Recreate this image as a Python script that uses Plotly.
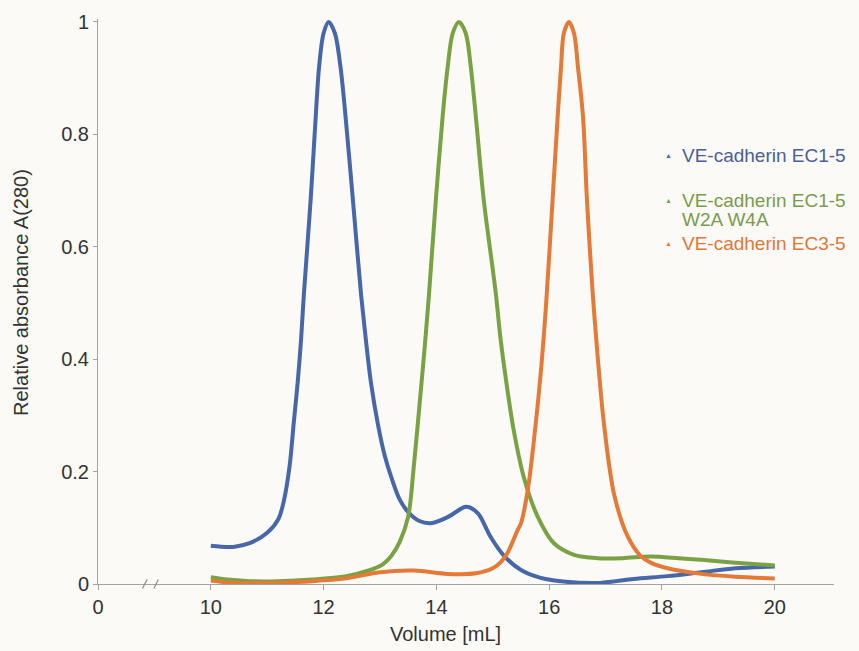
import plotly.graph_objects as go

# ---- data ----
blue_x = [10.0, 10.4, 10.7, 11.0, 11.2, 11.3, 11.4, 11.47, 11.54, 11.6, 11.65, 11.77, 11.86, 11.92, 12.0, 12.09,
          12.2, 12.3, 12.39, 12.52, 12.66, 12.75, 12.84, 12.96, 13.08, 13.2, 13.35, 13.5, 13.7, 13.9, 14.2, 14.5,
          14.6, 14.75, 14.96, 15.2, 15.5, 15.85, 16.3, 16.9, 17.5, 18.1, 18.7, 19.3, 20.0]
blue_y = [0.068, 0.066, 0.073, 0.091, 0.116, 0.15, 0.212, 0.286, 0.358, 0.434, 0.515, 0.683, 0.831, 0.92, 0.98, 1.0,
          0.98, 0.92, 0.831, 0.683, 0.52, 0.434, 0.358, 0.286, 0.23, 0.19, 0.15, 0.128, 0.112, 0.108, 0.119, 0.137,
          0.136, 0.124, 0.084, 0.05, 0.025, 0.011, 0.004, 0.002, 0.009, 0.014, 0.021, 0.028, 0.031]

green_x = [10.0, 10.3, 10.7, 11.2, 11.8, 12.4, 12.8, 13.05, 13.2, 13.35, 13.5, 13.6, 13.72, 13.8, 13.87, 13.99,
           14.11, 14.2, 14.29, 14.4, 14.52, 14.61, 14.7, 14.84, 15.05, 15.14, 15.26, 15.37, 15.55, 15.8, 16.08,
           16.44, 16.86, 17.3, 17.8, 18.3, 18.7, 19.3, 20.0]
green_y = [0.012, 0.008, 0.005, 0.005, 0.008, 0.014, 0.024, 0.035, 0.05, 0.075, 0.12, 0.21, 0.34, 0.43, 0.517, 0.683,
           0.831, 0.92, 0.98, 1.0, 0.98, 0.92, 0.831, 0.683, 0.52, 0.434, 0.345, 0.274, 0.19, 0.119, 0.073,
           0.052, 0.046, 0.046, 0.049, 0.046, 0.043, 0.038, 0.033]

orange_x = [10.0, 10.4, 11.0, 11.8, 12.4, 13.0, 13.6, 14.2, 14.7, 15.0, 15.15, 15.26, 15.44, 15.5, 15.62, 15.73,
            15.85, 15.94, 16.06, 16.15, 16.21, 16.26, 16.35, 16.44, 16.51, 16.6, 16.67, 16.77, 16.86, 16.97,
            17.15, 17.39, 17.62, 17.8, 18.1, 18.7, 19.3, 20.0]
orange_y = [0.006, 0.002, 0.002, 0.005, 0.01, 0.021, 0.024, 0.018, 0.019, 0.028, 0.04, 0.055, 0.096, 0.108, 0.167,
            0.256, 0.375, 0.49, 0.683, 0.831, 0.92, 0.98, 1.0, 0.98, 0.92, 0.831, 0.683, 0.52, 0.404, 0.286,
            0.16, 0.085, 0.05, 0.038, 0.028, 0.018, 0.013, 0.01]

series_names = ["VE-cadherin EC1-5", "VE-cadherin EC1-5 W2A W4A", "VE-cadherin EC3-5"]

x_tickvals = [8, 10, 12, 14, 16, 18, 20]     # 8 stands for the broken-axis origin
x_ticktext = ["0", "10", "12", "14", "16", "18", "20"]
y_tickvals = [0, 0.2, 0.4, 0.6, 0.8, 1]
y_ticktext = ["0", "0.2", "0.4", "0.6", "0.8", "1"]

BLUE = "#4767A8"
GREEN = "#78A243"
ORANGE = "#E37A37"
BG = "#FCFAF6"
FONT = "Liberation Sans, Arial, sans-serif"
FS = 20
LFS = 19

fig = go.Figure()
for xs, ys, col, nm in [(blue_x, blue_y, BLUE, series_names[0]),
                        (green_x, green_y, GREEN, series_names[1]),
                        (orange_x, orange_y, ORANGE, series_names[2])]:
    fig.add_trace(go.Scatter(x=xs, y=ys, mode="lines", name=nm,
                             line=dict(color=col, width=4, shape="spline", smoothing=0.9),
                             showlegend=False))

fig.update_layout(
    width=859, height=651,
    margin=dict(l=98, r=25, t=19, b=67),
    paper_bgcolor=BG, plot_bgcolor=BG,
    font=dict(family=FONT, size=FS, color="#333333"),
)
fig.update_xaxes(range=[8.0, 21.05], tickvals=x_tickvals, ticktext=x_ticktext,
                 showgrid=False, zeroline=False, showline=True, linecolor="#A3A3A3", linewidth=1,
                 ticks="outside", ticklen=5, tickcolor="#A3A3A3",
                 tickfont=dict(size=FS, color="#333333"))
fig.update_yaxes(range=[0, 1.0053], tickvals=y_tickvals, ticktext=y_ticktext,
                 showgrid=False, zeroline=False, showline=True, linecolor="#A3A3A3", linewidth=1,
                 ticks="outside", ticklen=4, tickcolor="#A3A3A3",
                 tickfont=dict(size=FS, color="#333333"))

# axis-break marks
for bx in [8.83, 9.03]:
    fig.add_shape(type="line", xref="x", yref="paper", x0=bx - 0.04, x1=bx + 0.04, y0=-0.008, y1=0.008,
                  line=dict(color="#8A8A8A", width=1.2))

def px2paper(px, py):
    return (px - 98) / 736.0, (584 - py) / 565.0

# axis titles
tx, ty = px2paper(445, 634)
fig.add_annotation(text="Volume [mL]", xref="paper", yref="paper", x=tx, y=ty,
                   xanchor="center", yanchor="middle", showarrow=False,
                   font=dict(size=FS, color="#333333"))
tx, ty = px2paper(21, 293)
fig.add_annotation(text="Relative absorbance A(280)", xref="paper", yref="paper", x=tx, y=ty,
                   textangle=-90, xanchor="center", yanchor="middle", showarrow=False,
                   font=dict(size=FS, color="#333333"))

# legend built from annotations
legend_items = [
    (BLUE, "#4B5E98", [(156, "VE-cadherin EC1-5")]),
    (GREEN, "#7A9B4F", [(201, "VE-cadherin EC1-5"), (219, "W2A W4A")]),
    (ORANGE, "#DC783C", [(244, "VE-cadherin EC3-5")]),
]
for mcol, tcol, lines in legend_items:
    mx, my = px2paper(668, lines[0][0])
    fig.add_annotation(text="▲", xref="paper", yref="paper", x=mx, y=my, xanchor="center", yanchor="middle",
                       showarrow=False, font=dict(size=7, color=mcol))
    for py, txt in lines:
        lx, ly = px2paper(680, py)
        fig.add_annotation(text=txt, xref="paper", yref="paper", x=lx, y=ly, xanchor="left", yanchor="middle",
                           showarrow=False, font=dict(size=LFS, color=tcol))

fig.write_html("out.html")
